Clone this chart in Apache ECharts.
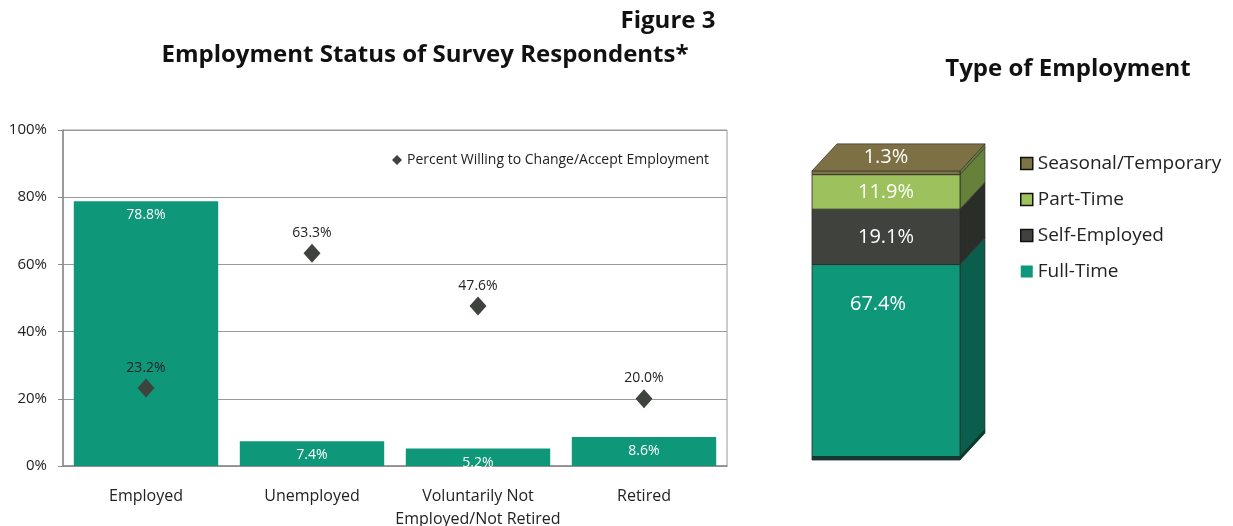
<!DOCTYPE html>
<html>
<head>
<meta charset="utf-8">
<title>Figure 3</title>
<script src="https://cdn.jsdelivr.net/npm/echarts@6/dist/echarts.min.js"></script>
<style>
  html, body { margin: 0; padding: 0; background: #fff; }
  #chart { width: 1233px; height: 526px; }
</style>
</head>
<body>
<div id="chart"></div>
<script>
// left chart data
const statusCategories = ['Employed', 'Unemployed', 'Voluntarily Not\nEmployed/Not Retired', 'Retired']
const statusShare = [78.8, 7.4, 5.2, 8.6]
const willingShare = [23.2, 63.3, 47.6, 20.0]
const yTicks = [0, 20, 40, 60, 80, 100]

// right chart data (bottom to top)
const typeNames = ['Full-Time', 'Self-Employed', 'Part-Time', 'Seasonal/Temporary']
const typeShare = [67.4, 19.1, 11.9, 1.3]

const FONT = '"Open Sans", Lato, sans-serif'
const TEAL = '#0f977a'

const typeFront = ['#0f977a', '#40433d', '#9dc15c', '#7d7347']
const typeSide = ['#0b5e4c', '#2b2d29', '#66813a', '#66793b']
const typeTop = '#7c7044'
const DX = 25, DY = -27

const cum = []
typeShare.reduce((acc, v, i) => { cum[i] = [acc, acc + v]; return acc + v }, 0)

function makeTypeSeries(i) {
  return {
    name: typeNames[i],
    type: 'custom',
    xAxisIndex: 1,
    yAxisIndex: 1,
    itemStyle: { color: typeFront[i] },
    data: [[0, cum[i][0], cum[i][1], typeShare[i]]],
    renderItem: (params, api) => {
      const lo = api.coord([0, api.value(1)])
      const hi = api.coord([0, api.value(2)])
      const bw = api.size([1, 0])[0]
      const x0 = lo[0] - bw / 2
      const x1 = x0 + bw
      const yb = lo[1], yt = hi[1]
      const children = [
        {
          type: 'polygon',
          shape: { points: [[x1, yb], [x1 + DX, yb + DY], [x1 + DX, yt + DY], [x1, yt]] },
          style: { fill: typeSide[i], stroke: '#2a2a2a', lineWidth: 0.6 }
        },
        {
          type: 'rect',
          shape: { x: x0, y: yt, width: bw, height: yb - yt },
          style: { fill: typeFront[i], stroke: '#2a2a2a', lineWidth: 0.8 }
        }
      ]
      if (i === 0) {
        children.push({
          type: 'rect',
          shape: { x: x0, y: yb - 4, width: bw, height: 4 },
          style: { fill: '#123a30' }
        })
        children.push({
          type: 'polygon',
          shape: { points: [[x1, yb], [x1 + DX, yb + DY], [x1 + DX, yb + DY - 4], [x1, yb - 4]] },
          style: { fill: '#0a3a2f' }
        })
      }
      const isTop = i === typeShare.length - 1
      if (isTop) {
        children.push({
          type: 'polygon',
          shape: { points: [[x0, yt], [x0 + DX, yt + DY], [x1 + DX, yt + DY], [x1, yt]] },
          style: { fill: typeTop, stroke: '#2a2a2a', lineWidth: 0.6 }
        })
      }
      let ty = (yb + yt) / 2
      if (isTop) ty = yt + DY / 2
      if (i === 0) ty = yt + 40
      children.push({
        type: 'text',
        style: {
          text: api.value(3).toFixed(1) + '%',
          x: (x0 + x1) / 2 - (i === 0 ? 8 : 0),
          y: ty,
          fill: '#fff',
          font: '20px ' + FONT,
          align: 'center',
          verticalAlign: 'middle'
        }
      })
      return { type: 'group', children }
    }
  }
}

const chart = echarts.init(document.getElementById('chart'))

chart.setOption({
  animation: false,
  backgroundColor: '#fff',
  textStyle: { fontFamily: FONT },
  title: [
    { text: 'Figure 3', left: 663, top: 4, textAlign: 'center',
      textStyle: { fontSize: 24, fontWeight: 'bold', color: '#111', fontFamily: FONT } },
    { text: 'Employment Status of Survey Respondents*', left: 420, top: 38, textAlign: 'center',
      textStyle: { fontSize: 24, fontWeight: 'bold', color: '#111', fontFamily: FONT } },
    { text: 'Type of Employment', left: 1063, top: 52, textAlign: 'center',
      textStyle: { fontSize: 24, fontWeight: 'bold', color: '#111', fontFamily: FONT } }
  ],
  legend: [
    {
      data: [{ name: 'Percent Willing to Change/Accept Employment', icon: 'diamond' }],
      left: 387, top: 148,
      itemWidth: 10, itemHeight: 10, itemGap: 4,
      textStyle: { fontSize: 14, color: '#222', fontFamily: FONT }
    },
    {
      data: [
        { name: 'Seasonal/Temporary', itemStyle: { color: '#7d7347', borderColor: '#111', borderWidth: 1.5 } },
        { name: 'Part-Time', itemStyle: { color: '#9dc15c', borderColor: '#111', borderWidth: 1.5 } },
        { name: 'Self-Employed', itemStyle: { color: '#40433d', borderColor: '#111', borderWidth: 1.5 } },
        { name: 'Full-Time', itemStyle: { color: TEAL, borderWidth: 0 } }
      ],
      orient: 'vertical',
      left: 1015, top: 149,
      icon: 'rect',
      itemWidth: 12, itemHeight: 12, itemGap: 17,
      selectedMode: false,
      textStyle: { fontSize: 19, color: '#222', fontFamily: FONT }
    }
  ],
  grid: [
    { left: 63, right: 506, top: 130, bottom: 60, outerBoundsMode: 'none',
      show: true, borderColor: '#9a9a9a', borderWidth: 1 },
    { left: 812, right: 273, top: 170, bottom: 66, outerBoundsMode: 'none' }
  ],
  xAxis: [
    {
      type: 'category',
      gridIndex: 0,
      data: statusCategories,
      axisLine: { lineStyle: { color: '#8a8a8a', width: 1.5 } },
      axisTick: { show: false },
      axisLabel: { color: '#222', fontSize: 16, margin: 19, lineHeight: 23, interval: 0 }
    },
    { type: 'category', gridIndex: 1, data: ['Type'], show: false }
  ],
  yAxis: [
    {
      type: 'value',
      gridIndex: 0,
      min: 0, max: 100, interval: 20,
      axisLine: { show: true, lineStyle: { color: '#8a8a8a', width: 1.5 } },
      axisTick: { show: true, length: 5, lineStyle: { color: '#8a8a8a' } },
      splitLine: { lineStyle: { color: '#9a9a9a', width: 1 } },
      axisLabel: {
        color: '#222', fontSize: 15, margin: 16,
        formatter: v => yTicks.includes(v) ? v + '%' : ''
      }
    },
    { type: 'value', gridIndex: 1, min: 0, max: 100, show: false }
  ],
  series: [
    {
      name: 'Employment Status',
      type: 'bar',
      xAxisIndex: 0,
      yAxisIndex: 0,
      data: statusShare,
      barWidth: '87%',
      itemStyle: { color: TEAL },
      label: {
        show: true,
        position: 'insideTop',
        distance: 7,
        color: '#fff',
        fontSize: 14,
        formatter: p => p.value.toFixed(1) + '%'
      }
    },
    {
      name: 'Percent Willing to Change/Accept Employment',
      type: 'scatter',
      xAxisIndex: 0,
      yAxisIndex: 0,
      data: willingShare,
      symbol: 'diamond',
      symbolSize: [17, 19],
      itemStyle: { color: '#3f433e', opacity: 1 },
      label: {
        show: true,
        position: 'top',
        distance: 4,
        color: '#222',
        fontSize: 14,
        formatter: p => p.value.toFixed(1) + '%'
      },
      z: 3
    },
    ...typeShare.map((_, i) => makeTypeSeries(i))
  ]
})

window.addEventListener('resize', () => chart.resize())
</script>
</body>
</html>
